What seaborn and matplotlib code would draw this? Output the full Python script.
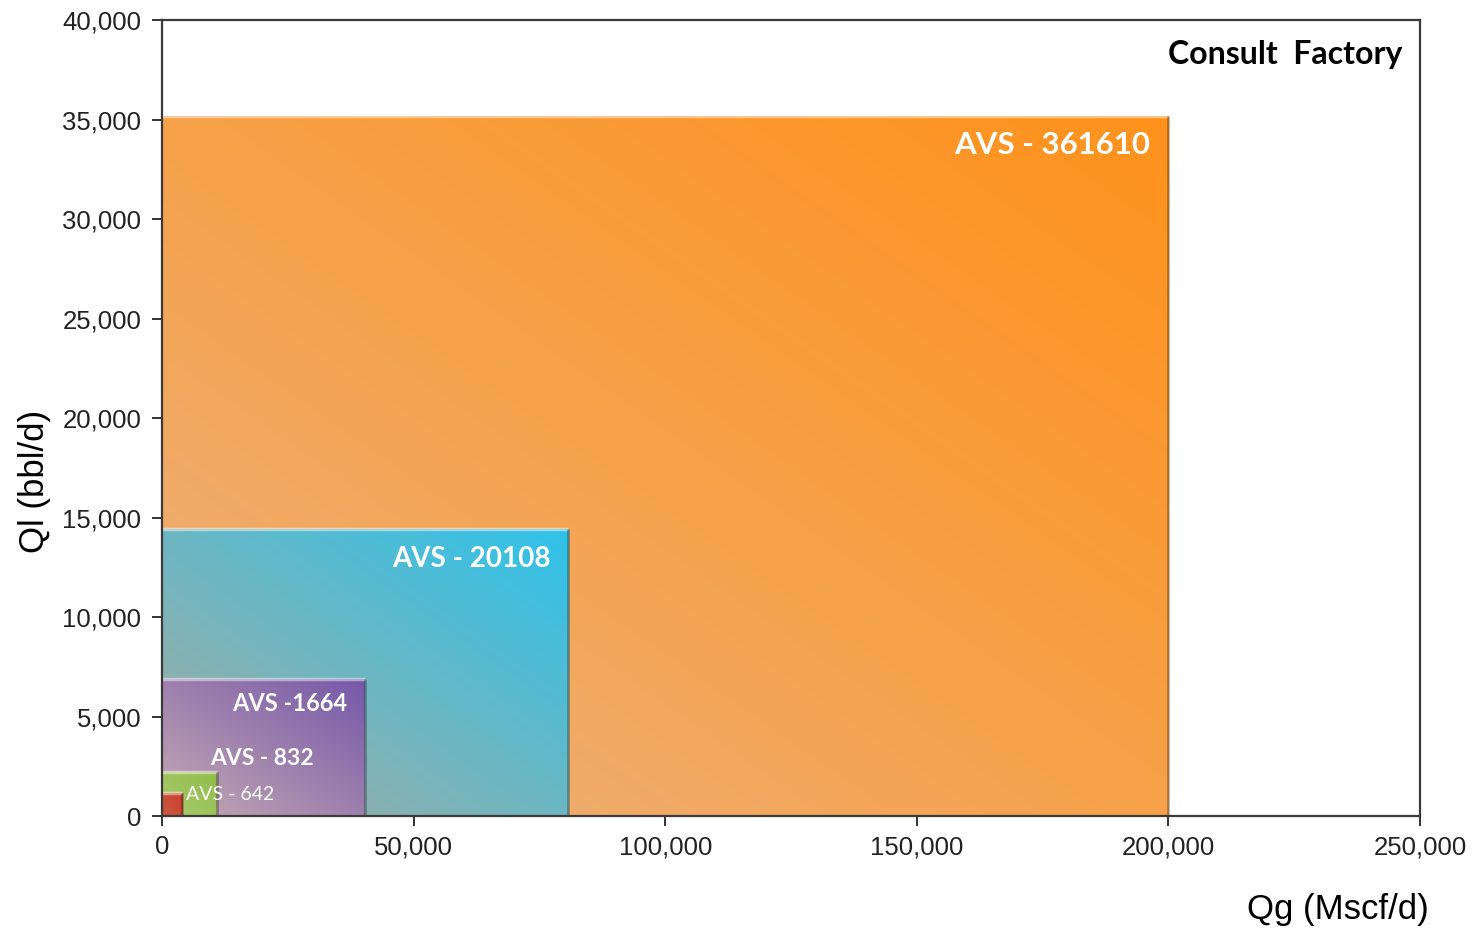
import numpy as np
import matplotlib
matplotlib.use('Agg')
import matplotlib.pyplot as plt
import seaborn as sns
from matplotlib.colors import LinearSegmentedColormap
from matplotlib.ticker import FuncFormatter

sns.set_style('ticks')
plt.rcParams['font.family'] = ['Liberation Sans', 'DejaVu Sans']

# data (one rectangle per AVS unit)
units = ['AVS - 361610', 'AVS - 20108', 'AVS -1664', 'AVS - 832', 'AVS - 642']
qg_max = [200000, 80700, 40300, 10900, 4000]   # Mscf/d
ql_max = [35200, 14400, 6900, 2200, 1150]      # bbl/d
grad_lo = ['#e9b78d', '#a8ab9c', '#c9abb5', '#a9cf6c', '#d24a3c']
grad_hi = ['#ff921c', '#2fc2ea', '#7652a8', '#8cc23c', '#cf3227']
alphas = [1.0, 1.0, 0.95, 0.9, 0.9]

fig = plt.figure(figsize=(14.73, 9.31), dpi=100)
ax = fig.add_axes([0.110, 0.1235, 0.854, 0.855])

bars = ax.bar([0] * len(units), ql_max, width=qg_max, align='edge',
              color='none', edgecolor='none')

# diagonal gradient image for each rectangle, clipped to the bar
gy, gx = np.mgrid[0:1:200j, 0:1:200j]
grad = (gx + gy) / 2.0
for i, b in enumerate(bars):
    cmap = LinearSegmentedColormap.from_list('g%d' % i, [grad_lo[i], grad_hi[i]])
    g = grad ** 0.75 if i == 0 else grad
    im = ax.imshow(g, cmap=cmap, origin='lower', aspect='auto',
                   extent=[0, qg_max[i], 0, ql_max[i]], alpha=alphas[i],
                   zorder=2 + i, interpolation='bilinear')
    im.set_clip_path(b)
    # bevel: light top edge and darker right edge
    ax.plot([0, qg_max[i]], [ql_max[i], ql_max[i]], color='white', alpha=0.45,
            lw=2.5, zorder=2.5 + i, solid_capstyle='butt')
    ax.plot([qg_max[i], qg_max[i]], [0, ql_max[i]], color='black', alpha=0.28,
            lw=2.0, zorder=2.5 + i, solid_capstyle='butt')

lab = dict(color='white', fontweight='bold', family=['Lato', 'DejaVu Sans'])
ax.text(196300, 33700, units[0], ha='right', va='center', fontsize=22.5, zorder=20, **lab)
ax.text(77200, 12900, units[1], ha='right', va='center', fontsize=20, zorder=20, **lab)
ax.text(36800, 5650, units[2], ha='right', va='center', fontsize=17, zorder=20, **lab)
ax.text(30100, 2900, units[3], ha='right', va='center', fontsize=16.5, zorder=20, **lab)
ax.text(4700, 1100, units[4], ha='left', va='center', fontsize=14, zorder=20,
        color='white', family=['Lato', 'DejaVu Sans'])

ax.text(246500, 38250, 'Consult  Factory', ha='right', va='center', fontsize=23,
        fontweight='bold', color='black', family=['Lato', 'DejaVu Sans'], zorder=20)

ax.set_xlim(0, 250000)
ax.set_ylim(0, 40000)
ax.set_xticks(np.arange(0, 250001, 50000))
ax.set_yticks(np.arange(0, 40001, 5000))
fmt = FuncFormatter(lambda v, p: '{:,.0f}'.format(v))
ax.xaxis.set_major_formatter(fmt)
ax.yaxis.set_major_formatter(fmt)
ax.tick_params(axis='both', direction='out', length=7, width=1.3, colors='#222222',
               labelsize=18.5, labelcolor='#222222')
ax.tick_params(axis='x', pad=7)
ax.tick_params(axis='y', pad=8)

for s in ax.spines.values():
    s.set_visible(True)
    s.set_color('#3a3a3a')
    s.set_linewidth(1.6)
    s.set_zorder(30)

ax.set_xlabel('Qg (Mscf/d)', fontsize=25, color='black', ha='right', va='center')
ax.xaxis.set_label_coords(1.007, -0.118)
ax.set_ylabel('Ql (bbl/d)', fontsize=25, color='black', va='center')
ax.yaxis.set_label_coords(-0.101, 0.42)

fig.savefig('out.png', dpi=100, facecolor='white')
